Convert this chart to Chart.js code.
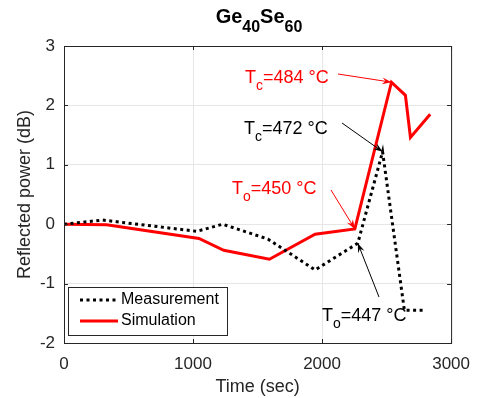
<!DOCTYPE html>
<html>
<head>
<meta charset="utf-8">
<script src="https://cdn.jsdelivr.net/npm/chart.js@4"></script>
<style>
  body { margin: 0; background: #fff; }
</style>
</head>
<body>
<canvas id="chart" width="481" height="398"></canvas>
<script>
// measured curve (time in sec, reflected power in dB)
var measTime = [0, 300, 1030, 1230, 1580, 1946, 2277, 2469, 2638, 2800];
var measPower = [0, 0.07, -0.12, 0, -0.25, -0.77, -0.32, 1.22, -1.45, -1.45];

// simulated curve
var simTime = [0, 330, 1046, 1238, 1592, 1946, 2254, 2538, 2646, 2685, 2838];
var simPower = [0, -0.01, -0.24, -0.44, -0.59, -0.17, -0.08, 2.39, 2.17, 1.46, 1.85];

var xTicks = [0, 1000, 2000, 3000];
var yTicks = [-2, -1, 0, 1, 2, 3];

// annotations: label, subscript, value, colour, text pos, arrow start (px), arrow tip (data coords)
var notes = [
    { main: 'T', sub: 'c', rest: '=484 \u00B0C', color: '#ff0000', tx: 245, ty: 83, from: [338, 74], to: [2538, 2.39] },
    { main: 'T', sub: 'c', rest: '=472 \u00B0C', color: '#000000', tx: 244, ty: 134, from: [342, 123], to: [2469, 1.22] },
    { main: 'T', sub: 'o', rest: '=450 \u00B0C', color: '#ff0000', tx: 232, ty: 194, from: [331, 190], to: [2254, -0.08] },
    { main: 'T', sub: 'o', rest: '=447 \u00B0C', color: '#000000', tx: 322, ty: 321, from: [379, 297], to: [2277, -0.32] }
];

function toXY(t, p) {
    return t.map(function (v, i) { return { x: v, y: p[i] }; });
}

var FONT = "'Liberation Sans', Arial, sans-serif";

function arrow(ctx, x1, y1, x2, y2, color) {
    ctx.save();
    ctx.strokeStyle = color;
    ctx.fillStyle = color;
    ctx.lineWidth = 1;
    ctx.beginPath();
    ctx.moveTo(x1, y1);
    ctx.lineTo(x2, y2);
    ctx.stroke();
    var a = Math.atan2(y2 - y1, x2 - x1);
    var len = 10, w = 0.35;
    ctx.beginPath();
    ctx.moveTo(x2, y2);
    ctx.lineTo(x2 - len * Math.cos(a - w), y2 - len * Math.sin(a - w));
    ctx.lineTo(x2 - len * 0.6 * Math.cos(a), y2 - len * 0.6 * Math.sin(a));
    ctx.lineTo(x2 - len * Math.cos(a + w), y2 - len * Math.sin(a + w));
    ctx.closePath();
    ctx.fill();
    ctx.restore();
}

var extras = {
    id: 'extras',
    afterDraw: function (chart) {
        var ctx = chart.ctx;
        var a = chart.chartArea;
        var xs = chart.scales.x, ys = chart.scales.y;

        // box
        ctx.save();
        ctx.strokeStyle = '#262626';
        ctx.lineWidth = 1;
        ctx.strokeRect(a.left + 0.5, a.top + 0.5, a.right - a.left, a.bottom - a.top);
        // inward ticks
        ctx.beginPath();
        xTicks.forEach(function (v) {
            var px = Math.round(xs.getPixelForValue(v)) + 0.5;
            ctx.moveTo(px, a.bottom); ctx.lineTo(px, a.bottom - 4);
            ctx.moveTo(px, a.top); ctx.lineTo(px, a.top + 4);
        });
        yTicks.forEach(function (v) {
            var py = Math.round(ys.getPixelForValue(v)) + 0.5;
            ctx.moveTo(a.left, py); ctx.lineTo(a.left + 4, py);
            ctx.moveTo(a.right, py); ctx.lineTo(a.right - 4, py);
        });
        ctx.stroke();
        ctx.restore();

        // title Ge40Se60
        ctx.save();
        ctx.fillStyle = '#000';
        ctx.textBaseline = 'alphabetic';
        var big = 'bold 20px ' + FONT, small = 'bold 16px ' + FONT;
        var parts = [['Ge', big, 0], ['40', small, 9], ['Se', big, 0], ['60', small, 9]];
        var total = 0;
        parts.forEach(function (p) { ctx.font = p[1]; total += ctx.measureText(p[0]).width; });
        var x = 259 - total / 2;
        parts.forEach(function (p) {
            ctx.font = p[1];
            ctx.fillText(p[0], x, 23 + p[2]);
            x += ctx.measureText(p[0]).width;
        });
        ctx.restore();

        // annotations
        notes.forEach(function (n) {
            ctx.save();
            ctx.fillStyle = n.color;
            ctx.textBaseline = 'alphabetic';
            ctx.font = '18px ' + FONT;
            var x = n.tx;
            ctx.fillText(n.main, x, n.ty);
            x += ctx.measureText(n.main).width;
            ctx.font = '14px ' + FONT;
            ctx.fillText(n.sub, x, n.ty + 7);
            x += ctx.measureText(n.sub).width;
            ctx.font = '18px ' + FONT;
            ctx.fillText(n.rest, x, n.ty);
            ctx.restore();
            arrow(ctx, n.from[0], n.from[1], xs.getPixelForValue(n.to[0]), ys.getPixelForValue(n.to[1]), n.color);
        });

        // legend
        var lx = 68, ly = 287, lw = 159, lh = 48;
        ctx.save();
        ctx.fillStyle = '#fff';
        ctx.fillRect(lx, ly, lw, lh);
        ctx.strokeStyle = '#262626';
        ctx.lineWidth = 1;
        ctx.strokeRect(lx + 0.5, ly + 0.5, lw, lh);
        chart.data.datasets.forEach(function (ds, i) {
            var yy = ly + 13 + i * 21;
            ctx.save();
            ctx.strokeStyle = ds.borderColor;
            ctx.lineWidth = ds.borderWidth;
            ctx.setLineDash(ds.borderDash || []);
            ctx.beginPath();
            ctx.moveTo(lx + 12, yy);
            ctx.lineTo(lx + 50, yy);
            ctx.stroke();
            ctx.restore();
            ctx.fillStyle = '#000';
            ctx.font = '16px ' + FONT;
            ctx.textBaseline = 'middle';
            ctx.fillText(ds.label, lx + 53, yy);
        });
        ctx.restore();
    }
};

var ctx = document.getElementById('chart').getContext('2d');

var chart = new Chart(ctx, {
    type: 'line',
    data: {
        datasets: [
            {
                label: 'Measurement',
                data: toXY(measTime, measPower),
                borderColor: '#000000',
                borderWidth: 3,
                borderDash: [3, 3.5],
                pointRadius: 0,
                tension: 0,
                fill: false
            },
            {
                label: 'Simulation',
                data: toXY(simTime, simPower),
                borderColor: '#ff0000',
                borderWidth: 3,
                pointRadius: 0,
                tension: 0,
                fill: false
            }
        ]
    },
    options: {
        responsive: false,
        animation: false,
        layout: { padding: { top: 46, right: 28, left: 0, bottom: 0 } },
        plugins: {
            legend: { display: false },
            tooltip: { enabled: false }
        },
        scales: {
            x: {
                type: 'linear',
                min: 0,
                max: 3000,
                afterBuildTicks: function (s) { s.ticks = xTicks.map(function (v) { return { value: v }; }); },
                afterFit: function (s) { s.height = 55; },
                grid: { color: '#e6e6e6', drawTicks: false },
                border: { display: false },
                ticks: {
                    color: '#262626', font: { family: FONT, size: 17 }, padding: 11, maxRotation: 0,
                    callback: function (v) { return String(v); }
                },
                title: { display: true, text: 'Time (sec)', color: '#262626', font: { family: FONT, size: 18 }, padding: { top: 0, bottom: 0 } }
            },
            y: {
                min: -2,
                max: 3,
                afterBuildTicks: function (s) { s.ticks = yTicks.map(function (v) { return { value: v }; }); },
                afterFit: function (s) { s.width = 64; },
                grid: { color: '#e6e6e6', drawTicks: false },
                border: { display: false },
                ticks: { color: '#262626', font: { family: FONT, size: 17 }, padding: 9 },
                title: { display: true, text: 'Reflected power (dB)', color: '#262626', font: { family: FONT, size: 18 }, padding: { top: 14, bottom: 0 } }
            }
        }
    },
    plugins: [extras]
});
</script>
</body>
</html>
